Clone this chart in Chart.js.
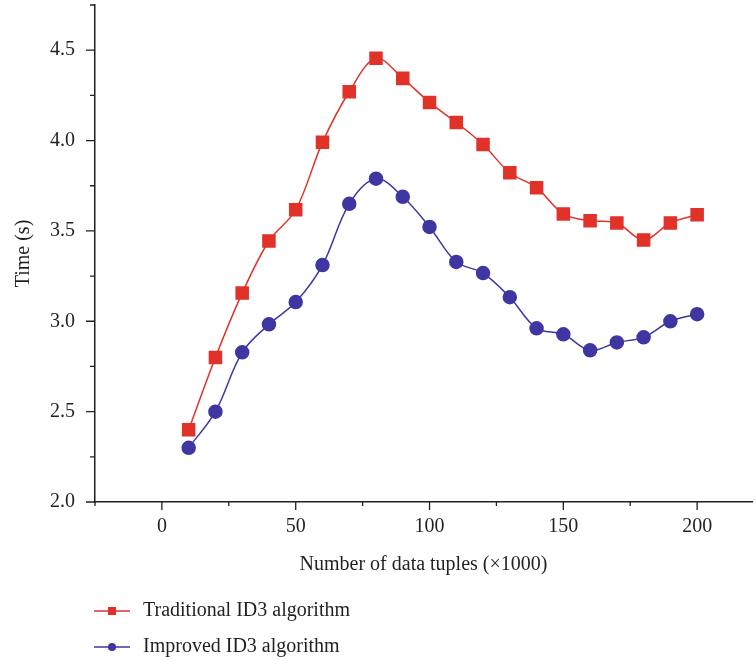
<!DOCTYPE html>
<html>
<head>
<meta charset="utf-8">
<script src="https://cdn.jsdelivr.net/npm/chart.js@4.4.0/dist/chart.umd.min.js"></script>
<style>
  html, body { margin: 0; padding: 0; background: #fff; }
  #wrap { width: 756px; height: 661px; position: relative; }
</style>
</head>
<body>
<div id="wrap"><canvas id="myChart"></canvas></div>
<script>
// données
const tuples = [10, 20, 30, 40, 50, 60, 70, 80, 90, 100, 110, 120, 130, 140, 150, 160, 170, 180, 190, 200];
const traditional = [2.40, 2.80, 3.156, 3.444, 3.617, 3.99, 4.27, 4.455, 4.344, 4.211, 4.10, 3.978, 3.822, 3.739, 3.594, 3.556, 3.544, 3.45, 3.544, 3.589];
const improved = [2.30, 2.50, 2.828, 2.983, 3.106, 3.311, 3.65, 3.789, 3.689, 3.522, 3.328, 3.267, 3.133, 2.961, 2.928, 2.839, 2.883, 2.911, 3.0, 3.039];
const legendLabels = ['Traditional ID3 algorithm', 'Improved ID3 algorithm'];
const xTitle = 'Number of data tuples (\u00d71000)';
const yTitle = 'Time (s)';

const red = '#E1322A';
const blue = '#3F36A2';
const ink = '#231F20';
const serif = "'Liberation Serif', 'DejaVu Serif', serif";
const fs = 20;

// petits traits de graduation (majeurs / mineurs) comme sur l'original
const tickMarks = {
  id: 'tickMarks',
  afterDraw(chart) {
    const ctx = chart.ctx;
    const x = chart.scales.x, y = chart.scales.y;
    ctx.save();
    ctx.strokeStyle = ink;
    ctx.lineWidth = 1.3;
    ctx.beginPath();
    for (let v = -25; v <= x.max; v += 25) {
      const px = x.getPixelForValue(v);
      const len = (v % 50 === 0) ? 8 : 4;
      ctx.moveTo(px, x.top);
      ctx.lineTo(px, x.top + len);
    }
    for (let v = 2; v <= y.max + 1e-9; v += 0.25) {
      const py = y.getPixelForValue(v);
      const len = (Math.abs(v * 2 - Math.round(v * 2)) < 1e-6) ? 9 : 5;
      ctx.moveTo(y.right, py);
      ctx.lineTo(y.right - len, py);
    }
    ctx.stroke();
    ctx.restore();
  }
};

// légende en deux lignes sous le graphique
const legendRows = {
  id: 'legendRows',
  afterDraw(chart) {
    const ctx = chart.ctx;
    ctx.save();
    chart.data.datasets.forEach((ds, i) => {
      const yy = 611 + i * 36;
      ctx.strokeStyle = ds.borderColor;
      ctx.lineWidth = 1.5;
      ctx.beginPath();
      ctx.moveTo(94, yy);
      ctx.lineTo(130, yy);
      ctx.stroke();
      ctx.fillStyle = ds.pointBackgroundColor;
      if (ds.pointStyle === 'rect') {
        ctx.fillRect(108, yy - 4, 8, 8);
      } else {
        ctx.beginPath();
        ctx.arc(112, yy, 4, 0, Math.PI * 2);
        ctx.fill();
      }
      ctx.fillStyle = ink;
      ctx.font = fs + 'px ' + serif;
      ctx.textBaseline = 'middle';
      ctx.fillText(ds.label, 143, yy);
    });
    ctx.restore();
  }
};

new Chart(
  document.getElementById('myChart'),
  {
    type: 'line',
    data: {
      datasets: [
        {
          label: legendLabels[0],
          data: tuples.map((t, i) => ({x: t, y: traditional[i]})),
          borderColor: red,
          backgroundColor: red,
          pointBackgroundColor: red,
          pointBorderColor: red,
          pointStyle: 'rect',
          pointRadius: 8.5,
          borderWidth: 1.5,
          tension: 0.35
        },
        {
          label: legendLabels[1],
          data: tuples.map((t, i) => ({x: t, y: improved[i]})),
          borderColor: blue,
          backgroundColor: blue,
          pointBackgroundColor: blue,
          pointBorderColor: blue,
          pointStyle: 'circle',
          pointRadius: 6.5,
          borderWidth: 1.5,
          tension: 0.35
        }
      ]
    },
    options: {
      responsive: true,
      maintainAspectRatio: false,
      animation: false,
      layout: {
        autoPadding: false,
        padding: {top: 5, right: 4, bottom: 84, left: 0}
      },
      scales: {
        x: {
          type: 'linear',
          min: -25,
          max: 220.5,
          grid: {display: false, drawTicks: false},
          border: {display: true, color: ink, width: 1.5},
          ticks: {
            stepSize: 25,
            includeBounds: false,
            autoSkip: false,
            padding: 13,
            color: ink,
            font: {family: serif, size: fs},
            maxRotation: 0,
            callback: v => (v % 50 === 0 ? String(v) : '')
          },
          title: {
            display: true,
            text: xTitle,
            color: ink,
            font: {family: serif, size: fs},
            padding: {top: 1, bottom: 0}
          },
          afterFit: scale => { scale.paddingLeft = 0; scale.paddingRight = 0; }
        },
        y: {
          min: 2,
          max: 4.75,
          grid: {display: false, drawTicks: false},
          border: {display: true, color: ink, width: 1.5},
          ticks: {
            stepSize: 0.25,
            autoSkip: false,
            padding: 20,
            color: ink,
            font: {family: serif, size: fs},
            callback: v => (Math.abs(v * 2 - Math.round(v * 2)) < 1e-6 ? v.toFixed(1) : '')
          },
          title: {
            display: true,
            text: yTitle,
            color: ink,
            font: {family: serif, size: fs},
            padding: {top: 12, bottom: 0}
          },
          afterFit: scale => { scale.width = 95; scale.paddingTop = 0; scale.paddingBottom = 0; }
        }
      },
      plugins: {
        legend: {display: false},
        tooltip: {enabled: false}
      }
    },
    plugins: [tickMarks, legendRows]
  }
);
</script>
</body>
</html>
